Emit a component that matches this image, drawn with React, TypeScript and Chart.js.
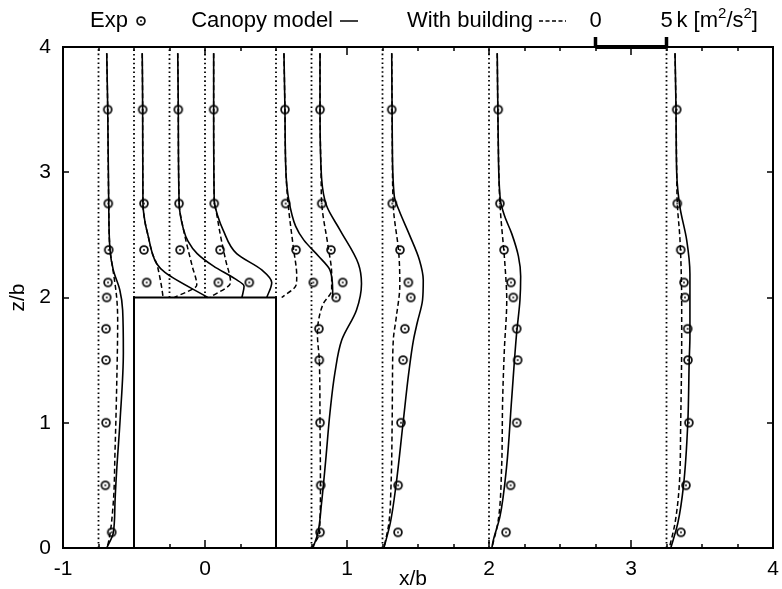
import { useEffect, useRef } from 'react';
import { Chart, registerables } from 'chart.js';

Chart.register(...registerables);

// ---------- axes ----------
const X_MIN = -1;
const X_MAX = 4;
const Z_MIN = 0;
const Z_MAX = 4;
const X_TICK_STEP = 1;
const Z_TICK_STEP = 1;
const X_MINOR_STEP = 0.25;

// ---------- building ----------
const BUILDING_X = [-0.5, -0.5, 0.5, 0.5];
const BUILDING_Z = [0, 2, 2, 0];
const ROOF_Z = 2;

// k scale: 5 m²/s² of k spans 0.5 x/b (scale bar from x/b = 2.75)
const K_TO_XB = 0.1;
const SCALE_BAR_X0 = 2.75;
const SCALE_BAR_K = 5;

// ---------- measurement stations ----------
const EXP_Z = [3.5, 2.75, 2.38, 2.12, 2.0, 1.75, 1.5, 1.0, 0.5, 0.125];

// x/b = -0.75
const EXP_K_M075 = [0.65, 0.69, 0.72, 0.67, 0.58, 0.53, 0.53, 0.53, 0.48, 0.93];
const CAN_Z_M075 = [3.95, 3.5, 2.75, 2.38, 2.22, 2.06, 1.9, 1.56, 1.02, 0.62, 0.36, 0.12, 0.0];
const CAN_K_M075 = [0.58, 0.65, 0.72, 0.81, 1.04, 1.5, 1.7, 1.75, 1.52, 1.28, 1.16, 1.04, 0.58];
const BLD_Z_M075 = [3.95, 3.5, 2.75, 2.38, 2.22, 2.0, 1.82, 1.29, 0.76, 0.36, 0.04, 0.0];
const BLD_K_M075 = [0.58, 0.65, 0.72, 0.81, 1.02, 1.28, 1.35, 1.28, 1.16, 1.04, 0.69, 0.58];

// x/b = -0.5
const EXP_K_M05 = [0.61, 0.7, 0.7, 0.89];
const CAN_Z_M05 = [3.95, 3.5, 2.75, 2.6, 2.49, 2.35, 2.27, 2.2, 2.0];
const CAN_K_M05 = [0.58, 0.61, 0.63, 0.78, 1.0, 1.3, 1.6, 2.18, 5.2];
const BLD_Z_M05 = [3.95, 3.5, 2.75, 2.6, 2.49, 2.35, 2.27, 2.2, 2.08, 2.0];
const BLD_K_M05 = [0.58, 0.61, 0.63, 0.78, 1.0, 1.3, 1.6, 1.75, 1.95, 2.05];

// x/b = -0.25
const EXP_K_M025 = [0.62, 0.67, 0.74, 3.44];
const CAN_Z_M025 = [3.95, 3.5, 2.75, 2.55, 2.45, 2.35, 2.25, 2.15, 2.09, 2.0];
const CAN_K_M025 = [0.58, 0.62, 0.68, 0.97, 1.3, 1.95, 3.1, 4.6, 5.25, 5.1];
const BLD_Z_M025 = [3.95, 3.5, 2.75, 2.55, 2.4, 2.25, 2.1, 2.0];
const BLD_K_M025 = [0.58, 0.62, 0.68, 0.97, 1.27, 1.6, 1.92, 0.35];

// x/b = 0
const EXP_K_0 = [0.61, 0.65, 1.06, 3.12];
const CAN_Z_0 = [3.95, 3.5, 2.78, 2.65, 2.54, 2.35, 2.22, 2.12, 2.0];
const CAN_K_0 = [0.61, 0.61, 0.65, 0.9, 1.27, 2.23, 4.0, 4.7, 4.35];
const BLD_Z_0 = [3.95, 3.5, 2.78, 2.65, 2.5, 2.3, 2.12, 2.0];
const BLD_K_0 = [0.61, 0.61, 0.65, 0.85, 1.08, 1.45, 1.8, 0.35];

// x/b = 0.5
const EXP_K_P05 = [0.63, 0.68, 1.41, 2.63];
const CAN_Z_P05 = [3.95, 3.5, 3.0, 2.78, 2.57, 2.46, 2.33, 2.23, 2.14, 2.0];
const CAN_K_P05 = [0.56, 0.63, 0.7, 0.9, 1.38, 1.95, 3.0, 3.75, 3.95, 4.0];
const BLD_Z_P05 = [3.95, 3.5, 3.0, 2.75, 2.4, 2.17, 2.1, 2.0];
const BLD_K_P05 = [0.56, 0.63, 0.7, 0.85, 1.22, 1.46, 1.42, 0.4];

// x/b = 0.75
const EXP_K_P075 = [0.6, 0.72, 1.37, 2.2, 1.73, 0.52, 0.55, 0.6, 0.65, 0.6];
const CAN_Z_P075 = [3.95, 3.5, 2.94, 2.73, 2.54, 2.27, 2.11, 1.9, 1.66, 1.4, 1.08, 0.7, 0.35, 0.12, 0.0];
const CAN_K_P075 = [0.6, 0.6, 0.72, 1.07, 2.0, 3.3, 3.52, 3.17, 2.13, 1.65, 1.3, 1.0, 0.7, 0.45, 0.1];
const BLD_Z_P075 = [3.95, 3.5, 2.94, 2.75, 2.4, 2.19, 2.06, 1.95, 1.82, 1.7, 1.5, 1.0, 0.5, 0.12, 0.0];
const BLD_K_P075 = [0.6, 0.6, 0.68, 0.72, 1.18, 1.42, 1.42, 0.83, 0.5, 0.42, 0.55, 0.6, 0.63, 0.55, 0.02];

// x/b = 1.25
const EXP_K_P125 = [0.65, 0.69, 1.23, 1.82, 1.99, 1.58, 1.45, 1.3, 1.1, 1.09];
const CAN_Z_P125 = [3.95, 3.25, 2.81, 2.7, 2.5, 2.3, 2.14, 1.98, 1.8, 1.66, 1.4, 1.0, 0.5, 0.2, 0.0];
const CAN_K_P125 = [0.65, 0.69, 0.83, 1.15, 1.9, 2.6, 2.87, 2.82, 2.45, 2.18, 1.85, 1.45, 0.95, 0.55, 0.1];
const BLD_Z_P125 = [3.95, 3.25, 2.73, 2.35, 2.1, 1.85, 1.66, 1.3, 1.0, 0.5, 0.2, 0.0];
const BLD_K_P125 = [0.65, 0.69, 0.76, 1.15, 1.22, 0.98, 0.76, 0.7, 0.68, 0.6, 0.45, 0.1];

// x/b = 2
const EXP_K_P2 = [0.65, 0.77, 1.06, 1.55, 1.71, 1.95, 2.02, 1.95, 1.52, 1.2];
const CAN_Z_P2 = [3.95, 3.26, 2.78, 2.65, 2.51, 2.33, 2.17, 1.98, 1.71, 1.18, 0.65, 0.25, 0.06, 0.0];
const CAN_K_P2 = [0.58, 0.65, 0.8, 1.1, 1.6, 2.07, 2.23, 2.18, 1.94, 1.59, 1.24, 0.77, 0.3, 0.2];
const BLD_Z_P2 = [3.95, 3.26, 2.75, 2.25, 1.98, 1.58, 1.18, 0.65, 0.22, 0.0];
const BLD_K_P2 = [0.58, 0.65, 0.77, 1.13, 1.25, 1.08, 0.96, 0.89, 0.65, 0.2];

// x/b = 3.25
const EXP_K_P325 = [0.72, 0.76, 1.0, 1.23, 1.3, 1.49, 1.51, 1.58, 1.37, 1.02];
const CAN_Z_P325 = [3.95, 3.5, 2.99, 2.72, 2.46, 2.19, 1.69, 1.5, 1.0, 0.5, 0.2, 0.0];
const CAN_K_P325 = [0.6, 0.67, 0.72, 0.95, 1.42, 1.65, 1.65, 1.6, 1.5, 1.2, 0.8, 0.3];
const BLD_Z_P325 = [3.95, 3.5, 2.99, 2.75, 2.46, 1.93, 1.69, 1.0, 0.5, 0.2, 0.0];
const BLD_K_P325 = [0.6, 0.67, 0.72, 0.76, 0.95, 1.07, 1.07, 1.0, 0.9, 0.6, 0.2];

type Profile = {
  station: number;
  roof: boolean;
  expK: number[];
  canZ: number[];
  canK: number[];
  bldZ: number[];
  bldK: number[];
};

const PROFILES: Profile[] = [
  { station: -0.75, roof: false, expK: EXP_K_M075, canZ: CAN_Z_M075, canK: CAN_K_M075, bldZ: BLD_Z_M075, bldK: BLD_K_M075 },
  { station: -0.5, roof: true, expK: EXP_K_M05, canZ: CAN_Z_M05, canK: CAN_K_M05, bldZ: BLD_Z_M05, bldK: BLD_K_M05 },
  { station: -0.25, roof: true, expK: EXP_K_M025, canZ: CAN_Z_M025, canK: CAN_K_M025, bldZ: BLD_Z_M025, bldK: BLD_K_M025 },
  { station: 0, roof: true, expK: EXP_K_0, canZ: CAN_Z_0, canK: CAN_K_0, bldZ: BLD_Z_0, bldK: BLD_K_0 },
  { station: 0.5, roof: true, expK: EXP_K_P05, canZ: CAN_Z_P05, canK: CAN_K_P05, bldZ: BLD_Z_P05, bldK: BLD_K_P05 },
  { station: 0.75, roof: false, expK: EXP_K_P075, canZ: CAN_Z_P075, canK: CAN_K_P075, bldZ: BLD_Z_P075, bldK: BLD_K_P075 },
  { station: 1.25, roof: false, expK: EXP_K_P125, canZ: CAN_Z_P125, canK: CAN_K_P125, bldZ: BLD_Z_P125, bldK: BLD_K_P125 },
  { station: 2, roof: false, expK: EXP_K_P2, canZ: CAN_Z_P2, canK: CAN_K_P2, bldZ: BLD_Z_P2, bldK: BLD_K_P2 },
  { station: 3.25, roof: false, expK: EXP_K_P325, canZ: CAN_Z_P325, canK: CAN_K_P325, bldZ: BLD_Z_P325, bldK: BLD_K_P325 },
];

const FONT_FAMILY = '"Liberation Sans", Arial, Helvetica, sans-serif';
const FONT_SIZE = 21;
const KEY_FONT_SIZE = 22;

function makeExpMarker(): HTMLCanvasElement {
  const c = document.createElement('canvas');
  c.width = 12;
  c.height = 12;
  const g = c.getContext('2d')!;
  g.strokeStyle = '#111';
  g.lineWidth = 1.8;
  g.beginPath();
  g.arc(6, 6, 3.9, 0, Math.PI * 2);
  g.stroke();
  g.fillStyle = '#000';
  g.beginPath();
  g.arc(6, 6, 0.9, 0, Math.PI * 2);
  g.fill();
  return c;
}

const toXY = (station: number, zs: number[], ks: number[]) =>
  zs.map((z, i) => ({ x: station + ks[i] * K_TO_XB, y: z }));

function buildDatasets(marker: HTMLCanvasElement) {
  const ds: any[] = [];
  // building outline
  ds.push({
    data: BUILDING_X.map((x, i) => ({ x, y: BUILDING_Z[i] })),
    borderColor: '#000',
    borderWidth: 2,
    pointRadius: 0,
    tension: 0,
    fill: false,
  });
  PROFILES.forEach((p) => {
    // dotted station baseline
    ds.push({
      data: [
        { x: p.station, y: p.roof ? ROOF_Z : Z_MIN },
        { x: p.station, y: Z_MAX },
      ],
      borderColor: '#000',
      borderWidth: 1.8,
      borderDash: [1.6, 2.8],
      pointRadius: 0,
      tension: 0,
    });
    // canopy model (solid)
    ds.push({
      indexAxis: 'y',
      data: toXY(p.station, p.canZ, p.canK),
      borderColor: '#000',
      borderWidth: 1.6,
      pointRadius: 0,
      cubicInterpolationMode: 'monotone',
    });
    // with building (dashed)
    ds.push({
      indexAxis: 'y',
      data: toXY(p.station, p.bldZ, p.bldK),
      borderColor: '#000',
      borderWidth: 1.5,
      borderDash: [5, 3],
      pointRadius: 0,
      cubicInterpolationMode: 'monotone',
    });
    // experiment
    ds.push({
      data: toXY(p.station, EXP_Z.slice(0, p.expK.length), p.expK),
      showLine: false,
      pointStyle: marker,
      pointRadius: 5,
      borderColor: '#000',
    });
  });
  return ds;
}

const decorPlugin = {
  id: 'decor',
  afterDatasetsDraw(chart: any) {
    const { ctx, chartArea: a, scales } = chart;
    const xs = scales.x;
    const ys = scales.y;
    ctx.save();
    ctx.strokeStyle = '#000';
    ctx.fillStyle = '#000';
    ctx.setLineDash([]);

    // ticks (inward, mirrored)
    ctx.lineWidth = 1.5;
    const nMinor = Math.round((X_MAX - X_MIN) / X_MINOR_STEP);
    for (let i = 0; i <= nMinor; i++) {
      const v = X_MIN + i * X_MINOR_STEP;
      const px = Math.round(xs.getPixelForValue(v));
      const len = Math.abs(v - Math.round(v)) < 1e-6 ? 8 : 4;
      ctx.beginPath();
      ctx.moveTo(px, a.bottom);
      ctx.lineTo(px, a.bottom - len);
      ctx.moveTo(px, a.top);
      ctx.lineTo(px, a.top + len);
      ctx.stroke();
    }
    for (let v = Z_MIN; v <= Z_MAX; v += Z_TICK_STEP) {
      const py = Math.round(ys.getPixelForValue(v));
      ctx.beginPath();
      ctx.moveTo(a.left, py);
      ctx.lineTo(a.left + 6, py);
      ctx.moveTo(a.right, py);
      ctx.lineTo(a.right - 6, py);
      ctx.stroke();
    }

    // frame
    ctx.lineWidth = 2;
    ctx.strokeRect(a.left, a.top, a.right - a.left, a.bottom - a.top);

    // axis titles
    ctx.font = `${FONT_SIZE}px ${FONT_FAMILY}`;
    ctx.textAlign = 'center';
    ctx.textBaseline = 'middle';
    ctx.fillText('x/b', 413, 579);
    ctx.save();
    ctx.translate(18, (a.top + a.bottom) / 2);
    ctx.rotate(-Math.PI / 2);
    ctx.fillText('z/b', 0, 0);
    ctx.restore();

    // key
    const ky = 21;
    ctx.font = `${KEY_FONT_SIZE}px ${FONT_FAMILY}`;
    ctx.textAlign = 'right';
    ctx.fillText('Exp', 128, ky);
    const m = makeExpMarker();
    ctx.drawImage(m, 141 - 6, ky - 6);
    ctx.fillText('Canopy model', 333, ky);
    ctx.lineWidth = 1.5;
    ctx.beginPath();
    ctx.moveTo(340, ky);
    ctx.lineTo(358, ky);
    ctx.stroke();
    ctx.fillText('With building', 533, ky);
    ctx.setLineDash([4, 2.5]);
    ctx.lineWidth = 1.3;
    ctx.beginPath();
    ctx.moveTo(539, ky);
    ctx.lineTo(566, ky);
    ctx.stroke();
    ctx.setLineDash([]);

    // scale bar for k
    const x0 = xs.getPixelForValue(SCALE_BAR_X0);
    const x1 = xs.getPixelForValue(SCALE_BAR_X0 + SCALE_BAR_K * K_TO_XB);
    ctx.lineWidth = 4;
    ctx.beginPath();
    ctx.moveTo(x0, a.top);
    ctx.lineTo(x1, a.top);
    ctx.stroke();
    ctx.lineWidth = 3.5;
    ctx.beginPath();
    ctx.moveTo(x0, a.top + 1);
    ctx.lineTo(x0, a.top - 10);
    ctx.moveTo(x1, a.top + 1);
    ctx.lineTo(x1, a.top - 10);
    ctx.stroke();
    ctx.textAlign = 'center';
    ctx.fillText('0', x0, ky);
    ctx.fillText(String(SCALE_BAR_K), x1, ky);
    // k [m²/s²]
    ctx.textAlign = 'left';
    let tx = x1 + 10;
    const big = `${KEY_FONT_SIZE}px ${FONT_FAMILY}`;
    const small = `${Math.round(KEY_FONT_SIZE * 0.7)}px ${FONT_FAMILY}`;
    const parts: [string, boolean][] = [['k [m', false], ['2', true], ['/s', false], ['2', true], [']', false]];
    parts.forEach(([t, sup]) => {
      ctx.font = sup ? small : big;
      ctx.fillText(t, tx, sup ? ky - 7 : ky);
      tx += ctx.measureText(t).width;
    });
    ctx.restore();
  },
};

export default function App() {
  const ref = useRef<HTMLCanvasElement | null>(null);
  useEffect(() => {
    if (!ref.current) return;
    const marker = makeExpMarker();
    const chart = new Chart(ref.current, {
      type: 'line',
      data: { datasets: buildDatasets(marker) },
      options: {
        responsive: false,
        animation: false,
        layout: { padding: { top: 47, right: 9, left: 0, bottom: 0 } },
        plugins: { legend: { display: false }, tooltip: { enabled: false } },
        scales: {
          x: {
            type: 'linear',
            min: X_MIN,
            max: X_MAX,
            grid: { display: false, drawTicks: false },
            border: { display: false },
            ticks: {
              stepSize: X_TICK_STEP,
              padding: 9,
              color: '#000',
              font: { family: FONT_FAMILY, size: FONT_SIZE },
              maxRotation: 0,
            },
            afterFit: (s: any) => {
              s.height = 41;
              s.paddingLeft = 0;
              s.paddingRight = 0;
            },
          },
          y: {
            type: 'linear',
            min: Z_MIN,
            max: Z_MAX,
            grid: { display: false, drawTicks: false },
            border: { display: false },
            ticks: {
              stepSize: Z_TICK_STEP,
              padding: 12,
              color: '#000',
              font: { family: FONT_FAMILY, size: FONT_SIZE },
            },
            afterFit: (s: any) => {
              s.width = 63;
              s.paddingTop = 0;
              s.paddingBottom = 0;
            },
          },
        },
      } as any,
      plugins: [decorPlugin],
    });
    return () => chart.destroy();
  }, []);
  return (
    <div style={{ position: 'fixed', left: 0, top: 0, width: 782, height: 589, background: '#fff' }}>
      <canvas ref={ref} width={782} height={589} style={{ display: 'block' }} />
    </div>
  );
}
